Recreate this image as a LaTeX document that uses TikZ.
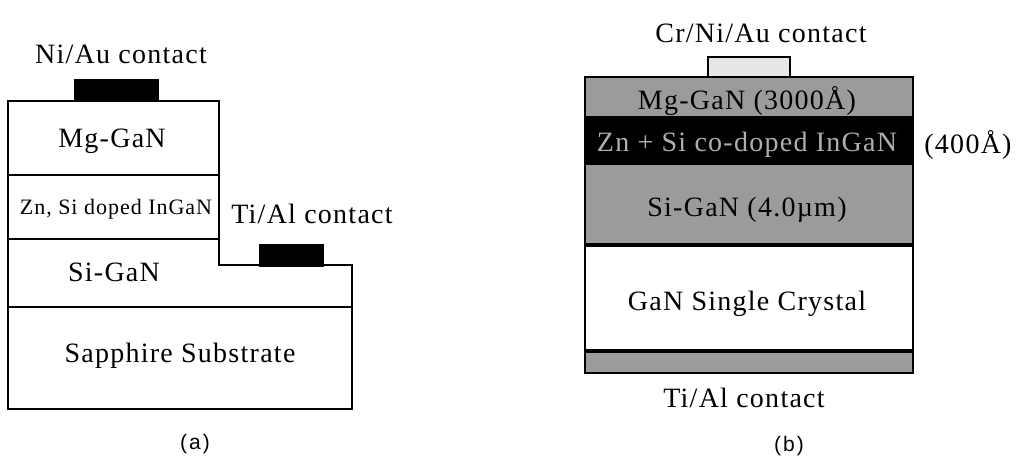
\documentclass[tikz,border=0pt]{standalone}
\usepackage{fontspec}
\usepackage{xcolor}
\usepackage{tikz}
\usetikzlibrary{positioning}
\setmainfont[LetterSpace=4.5]{Liberation Serif}
\setsansfont[LetterSpace=10]{Liberation Sans}
\definecolor{layergray}{RGB}{155, 155, 155}
\definecolor{speckle}{RGB}{175, 175, 175}

\begin{document}
\begin{tikzpicture}[
    x = 1pt, y = -1pt,
    node distance = 0pt,
    biglabel/.style  = {inner sep=0pt, font=\fontsize{28}{32}\selectfont},
    smalllabel/.style  = {inner sep=0pt, font=\fontsize{22}{26}\selectfont},
    caption/.style    = {inner sep=0pt, font=\sffamily\fontsize{21}{24}\selectfont},
    metal/.style  = {draw, fill=black, line width=1pt},
    wall/.style   = {draw, line width=1.6pt},
    layer/.style  = {draw=black, line width=2.5pt, outer sep=0pt, minimum width=328pt,
                     inner sep=0pt, anchor=north},
    seam/.style   = {draw, line width=3.5pt},
  ]
  \useasboundingbox (0,0) rectangle (1016,456);

  % left structure
  \draw[wall] (8,101) rectangle (219,175);
  \draw[wall] (8,175) rectangle (219,239);
  \draw[wall] (8,239) -- (219,239) -- (219,265) -- (352,265) -- (352,307) -- (8,307) -- cycle;
  \draw[wall] (8,307) rectangle (352,409);
  \fill[metal] (74,79) rectangle (158,101);
  \fill[metal] (259,244) rectangle (323,266);

  \node[biglabel] (niau) at (121,54) {Ni/Au contact};
  \node[biglabel] (tial) at (312,214) {Ti/Al contact};
  \node[biglabel] (mg) at (112,141) {Mg-GaN};
  \node[smalllabel] (zn) at (116,209) {Zn, Si doped InGaN};
  \node[biglabel] (si) at (114,272) {Si-GaN};
  \node[biglabel] (sapphire) at (180,356) {Sapphire Substrate};
  \node[caption] (capa) at (195,444) {(a)};

  % right structure
  \node[layer, fill=layergray, minimum height=40pt] (mglayer) at (749,77) {};
  \node[layer, fill=black, minimum height=47pt, below=of mglayer] (znlayer) {};
  \node[layer, fill=layergray, minimum height=81pt, below=of znlayer] (silayer) {};
  \node[layer, fill=white, minimum height=106pt, below=of silayer] (crystal) {};
  \node[layer, fill=layergray, minimum height=22pt, below=of crystal] (bottom) {};
  \node[draw, line width=1.5pt, fill=speckle!30, outer sep=0pt, minimum width=82pt, minimum height=20pt,
        inner sep=0pt, above=of mglayer] (topcontact) {};
  \draw[seam] (crystal.north west) -- (crystal.north east);
  \draw[seam] (crystal.south west) -- (crystal.south east);

  \node[biglabel] (mgtext) at (747,101) {Mg-GaN (3000Å)};
  \node[biglabel, text=speckle] (zntext) at (747,145) {Zn + Si co-doped InGaN};
  \node[biglabel] (sitext) at (747,210) {Si-GaN (4.0µm)};
  \node[biglabel] (crystaltext) at (747,304) {GaN Single Crystal};
  \node[biglabel] (crni) at (761,33) {Cr/Ni/Au contact};
  \node[biglabel] (tiallow) at (744,398) {Ti/Al contact};
  \node[biglabel] (thick) at (968,145) {(400Å)};
  \node[caption] (capb) at (789,446) {(b)};
\end{tikzpicture}
\end{document}
